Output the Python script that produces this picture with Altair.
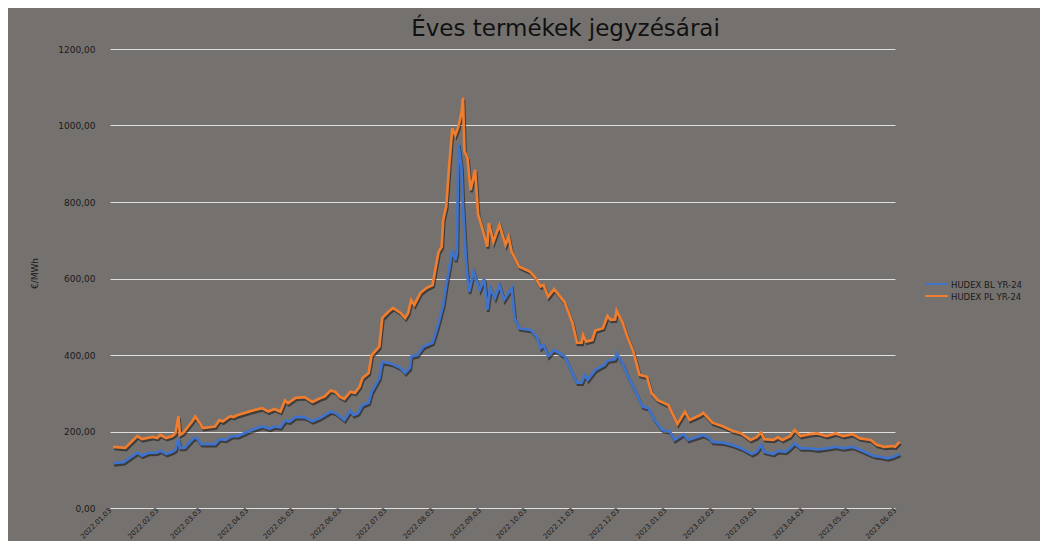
import datetime as dt
import altair as alt
import pandas as pd

# ---------------- data ----------------
start = dt.date(2022, 1, 3)
series_names = ["HUDEX BL YR-24", "HUDEX PL YR-24"]
series_colors = ["#3f73cc", "#ee7d2f"]

# day offsets from 2022-01-03 and prices (EUR/MWh)
bl_day = [2, 9, 13, 18, 21, 25, 31, 33, 37, 41, 43, 45, 46, 49, 55, 57, 60, 69, 72, 76, 80, 84, 93, 100, 105,
          108, 112, 115, 118, 122, 128, 133, 138, 145, 148, 154, 158, 160, 163, 166, 170, 172, 177, 179, 183,
          186, 191, 194, 197, 198, 202, 206, 212, 215, 217, 219, 221, 223, 225, 227, 228, 229, 231, 232, 234,
          236, 239, 243, 246, 248, 250, 253, 256, 259, 264, 266, 269, 277, 281, 283, 285, 288, 292, 299, 302,
          307, 310, 312, 314, 319, 325, 327, 332, 333, 337, 340, 345, 350, 354, 358, 363, 368, 371, 377, 380,
          390, 394, 396, 403, 409, 415, 422, 425, 428, 430, 436, 439, 444, 447, 450, 454, 460, 465, 471, 477,
          482, 488, 493, 502, 506, 511, 515, 519]
bl_value = [117, 120, 131, 145, 137, 144, 145, 150, 141, 147, 152, 182, 157, 157, 183, 183, 167, 167, 180, 178,
            188, 188, 204, 213, 207, 213, 211, 228, 226, 238, 237, 227, 235, 252, 249, 230, 254, 243, 248, 269,
            275, 304, 339, 382, 379, 376, 366, 353, 366, 396, 400, 422, 432, 470, 500, 531, 583, 627, 675, 648,
            667, 953, 889, 792, 644, 565, 618, 570, 599, 518, 575, 549, 583, 544, 575, 496, 470, 465, 444, 418,
            426, 397, 413, 396, 369, 328, 328, 348, 335, 361, 374, 385, 389, 404, 378, 348, 308, 265, 261, 230,
            204, 200, 178, 193, 178, 191, 182, 173, 171, 165, 156, 141, 147, 165, 147, 141, 149, 147, 156, 169,
            156, 156, 153, 156, 160, 156, 160, 152, 136, 134, 130, 134, 141]

pl_day = [2, 10, 18, 21, 28, 31, 33, 37, 41, 43, 45, 46, 48, 54, 56, 59, 61, 69, 72, 74, 79, 81, 84, 93, 100,
          104, 108, 112, 115, 117, 122, 128, 133, 138, 141, 145, 148, 151, 154, 158, 161, 164, 166, 170, 172,
          177, 179, 183, 186, 191, 194, 196, 198, 200, 204, 208, 212, 214, 216, 218, 219, 221, 223, 225, 227,
          229, 231, 232, 233, 235, 237, 240, 242, 245, 248, 249, 252, 256, 260, 262, 264, 269, 276, 279, 283,
          285, 288, 292, 296, 299, 304, 307, 310, 311, 313, 317, 319, 324, 327, 329, 332, 333, 337, 340, 344,
          348, 353, 356, 360, 367, 373, 378, 381, 388, 390, 396, 403, 409, 415, 421, 425, 428, 430, 436, 439,
          442, 447, 450, 454, 460, 465, 471, 477, 482, 488, 493, 500, 504, 509, 514, 516, 519]
pl_value = [160, 157, 188, 180, 186, 183, 191, 183, 188, 195, 240, 191, 196, 226, 239, 222, 209, 213, 230, 226,
            240, 238, 243, 254, 261, 252, 259, 252, 281, 274, 288, 290, 277, 287, 291, 307, 304, 291, 285, 304,
            301, 317, 340, 353, 400, 422, 497, 513, 523, 510, 497, 510, 544, 531, 562, 575, 583, 627, 670, 683,
            753, 788, 897, 993, 975, 997, 1032, 1073, 932, 914, 831, 884, 766, 727, 683, 745, 696, 740, 688, 709,
            670, 631, 618, 605, 579, 583, 552, 572, 552, 537, 483, 432, 432, 452, 435, 439, 464, 470, 502, 492,
            493, 516, 484, 448, 409, 348, 343, 300, 282, 269, 220, 252, 230, 243, 249, 223, 213, 202, 195, 178,
            185, 197, 180, 178, 185, 178, 188, 204, 188, 193, 195, 188, 195, 188, 193, 182, 178, 165, 160, 162,
            160, 173]

tick_months = [(2022, m) for m in range(1, 13)] + [(2023, m) for m in range(1, 7)]
y_ticks = [0, 200, 400, 600, 800, 1000, 1200]
title_text = "Éves termékek jegyzésárai"
y_title = "€/MWh"


def frame(days, vals, name):
    return pd.DataFrame({
        "date": [(start + dt.timedelta(days=d)).isoformat() for d in days],
        "value": vals,
        "series": name,
    })


df = pd.concat([frame(bl_day, bl_value, series_names[0]),
                frame(pl_day, pl_value, series_names[1])], ignore_index=True)

# ---------------- styling ----------------
W, H = 785, 459
BG = "#75716f"
TXT = "#1b1b1b"
FONT = "DejaVu Sans"

x_dom = [alt.DateTime(year=2022, month=1, date=3, utc=True),
         alt.DateTime(year=2023, month=6, date=3, utc=True)]
x_vals = [alt.DateTime(year=y, month=m, date=3, utc=True) for y, m in tick_months]

x_scale = alt.Scale(type="utc", domain=x_dom)
y_scale = alt.Scale(domain=[0, 1200], nice=False)

x_axis = alt.Axis(values=x_vals, labelExpr="utcFormat(datum.value, '%Y.%m.%d')", labelAngle=315,
                  labelAlign="right", labelBaseline="middle", labelFontSize=7, labelColor=TXT,
                  labelFont=FONT, labelPadding=1, ticks=False, domain=False, grid=False,
                  title=None, labelOverlap=False, labelFlush=False, labelBound=False)
y_axis = alt.Axis(values=y_ticks, labelExpr="replace(format(datum.value, '.2f'), '.', ',')",
                  labelFontSize=9, labelColor=TXT, labelFont=FONT, labelPadding=15,
                  ticks=False, domain=False, grid=True, gridColor="#dedede", gridWidth=1,
                  title=y_title, titleAngle=270, titleX=-76, titleY=224, titleFontSize=9,
                  titleFont=FONT, titleFontWeight="normal", titleColor=TXT,
                  titleAlign="center", titleBaseline="middle")

shadow = alt.Chart(df).mark_line(strokeWidth=2.8, color="#1a1a1a", opacity=0.6,
                                 xOffset=1, yOffset=2).encode(
    x=alt.X("date:T", scale=x_scale, axis=x_axis),
    y=alt.Y("value:Q", scale=y_scale, axis=y_axis),
    detail="series:N",
)

lines = alt.Chart(df).mark_line(strokeWidth=2.7).encode(
    x=alt.X("date:T", scale=x_scale, axis=x_axis),
    y=alt.Y("value:Q", scale=y_scale, axis=y_axis),
    color=alt.Color("series:N", scale=alt.Scale(domain=series_names, range=series_colors), legend=None),
)

legend_layers = []
for i, (name, col) in enumerate(zip(series_names, series_colors)):
    ldf = pd.DataFrame({"series": [name]})
    legend_layers.append(
        alt.Chart(ldf).mark_rule(strokeWidth=2, color=col).encode(
            x=alt.value(815), x2=alt.value(838), y=alt.value(235 + 12 * i))
    )
    legend_layers.append(
        alt.Chart(ldf).mark_text(align="left", baseline="middle", fontSize=8.5, font=FONT,
                                 color=TXT).encode(
            x=alt.value(841), y=alt.value(235.5 + 12 * i), text="series:N")
    )

chart = alt.layer(shadow, lines, *legend_layers).properties(
    width=W,
    height=H,
    title=alt.TitleParams(title_text, fontSize=23, font=FONT, color="#111111", fontWeight="normal",
                          anchor="middle", dx=63, offset=4),
    padding={"left": 102, "top": 41, "right": 145, "bottom": 33},
    autosize=alt.AutoSizeParams(type="none"),
).configure(background=BG).configure_view(stroke=None)

chart.save("out.html", embed_options={"renderer": "svg", "actions": False})
